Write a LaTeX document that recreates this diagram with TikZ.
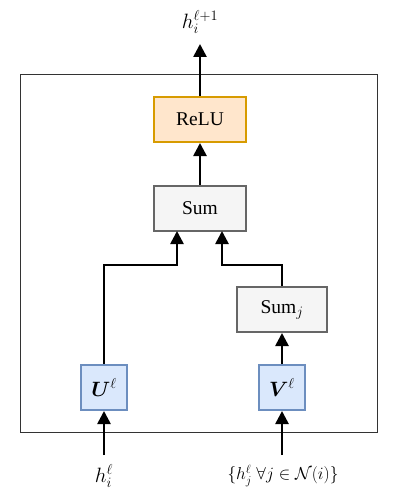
\documentclass[tikz,border=0pt]{standalone}
\usepackage{fontspec}
\setmainfont{Liberation Serif}
\usepackage{amsmath,amssymb,bm}
\usetikzlibrary{arrows.meta}
\definecolor{orfill}{HTML}{FFE6CC}
\definecolor{ordraw}{HTML}{D79B00}
\definecolor{grfill}{HTML}{F5F5F5}
\definecolor{grdraw}{HTML}{666666}
\definecolor{blfill}{HTML}{DAE8FC}
\definecolor{bldraw}{HTML}{6C8EBF}
\begin{document}
\begin{tikzpicture}[x=1pt,y=-1pt,
  font=\fontsize{19.5}{23}\selectfont,
  box/.style={draw, line width=2pt, inner sep=0pt},
  relubox/.style={box, fill=orfill, draw=ordraw, minimum width=92pt, minimum height=45pt},
  sumbox/.style={box, fill=grfill, draw=grdraw, minimum width=92pt, minimum height=45pt},
  sumjbox/.style={box, fill=grfill, draw=grdraw, minimum width=90pt, minimum height=45pt},
  matbox/.style={box, fill=blfill, draw=bldraw, minimum width=46pt, minimum height=45pt},
  arr/.style={line width=2.6pt, -{Triangle[length=13pt,width=13pt]}},
  lbl/.style={inner sep=0pt}]
\useasboundingbox (0,0) rectangle (416,500);
\draw[line width=1pt, draw=black!80] (20,75) rectangle (377,432);
\node[relubox] (relu) at (200,119.5) {ReLU};
\node[sumbox] (sum) at (200,208.5) {Sum};
\node[sumjbox] (sumj) at (282,309.5) {Sum$_j$};
\node[matbox] (U) at (104,387.5) {$\bm{U}^{\ell}$};
\node[matbox] (V) at (282,387.5) {$\bm{V}^{\ell}$};
\node[lbl] (out) at (200,22) {$h_i^{\ell+1}$};
\node[lbl] (hi) at (104,476) {$h_i^{\ell}$};
\node[lbl, font=\fontsize{18}{21}\selectfont] (hj) at (283,476) {$\{h_j^{\ell}\ \forall j\in\mathcal{N}(i)\}$};
\coordinate (outend) at (200,44);
\coordinate (histart) at (104,455);
\coordinate (hjstart) at (282,455);
\draw[arr] (relu.north) -- (outend);
\draw[arr] (sum.north) -- (relu.south);
\draw[arr] (U.north) |- (177,265) -- (177,231);
\draw[arr] (sumj.north) |- (222,265) -- (222,231);
\draw[arr] (V.north) -- (sumj.south);
\draw[arr] (histart) -- (U.south);
\draw[arr] (hjstart) -- (V.south);
\end{tikzpicture}
\end{document}
